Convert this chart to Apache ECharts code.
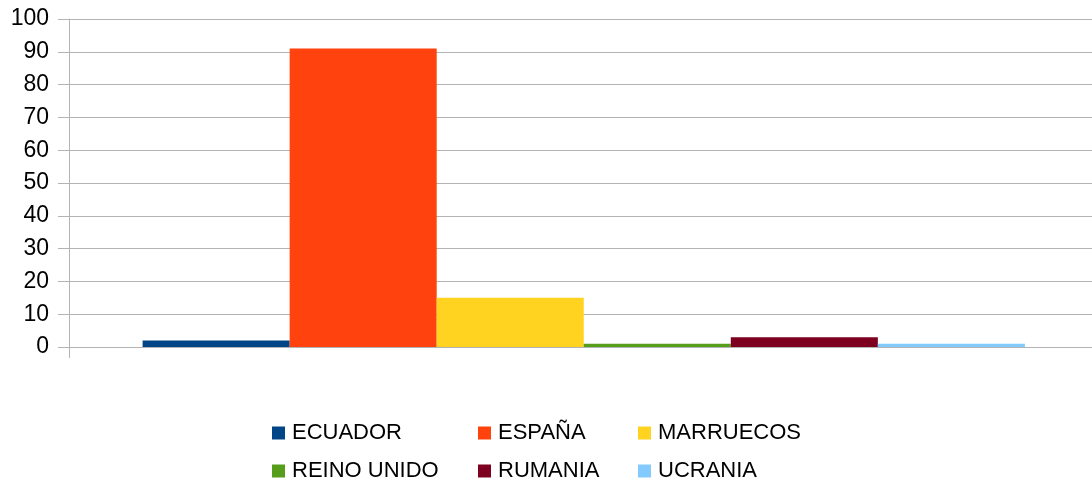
<!DOCTYPE html>
<html>
<head>
<meta charset="utf-8">
<script src="https://cdn.jsdelivr.net/npm/echarts@6/dist/echarts.min.js"></script>
<style>
    html, body { margin: 0; padding: 0; background: #fff; }
    #chart { width: 1092px; height: 484px; }
</style>
</head>
<body>
<div id="chart"></div>
<script>
const countries = ['ECUADOR', 'ESPAÑA', 'MARRUECOS', 'REINO UNIDO', 'RUMANIA', 'UCRANIA'];
const values = [2, 91, 15, 1, 3, 1];
const colors = ['#004586', '#ff420e', '#ffd320', '#579d1c', '#7e0021', '#83caff'];
const categories = [''];

// legend is laid out in three columns like the original
const legendColumns = [
    { left: 272, names: ['ECUADOR', 'REINO UNIDO'] },
    { left: 478, names: ['ESPAÑA', 'RUMANIA'] },
    { left: 638, names: ['MARRUECOS', 'UCRANIA'] },
];

const chart = echarts.init(document.getElementById('chart'), null, { renderer: 'canvas' });

const legendTextStyle = {
    color: '#000',
    fontFamily: 'Liberation Sans',
    fontSize: 22,
    padding: [0, 0, 0, 2],
};

chart.setOption({
    animation: false,
    color: colors,
    grid: {
        left: 69,
        right: -6.5,
        top: 19,
        bottom: 137,
        outerBoundsMode: 'none',
        containLabel: false,
    },
    legend: legendColumns.map((column) => ({
        orient: 'vertical',
        left: column.left,
        top: 422,
        itemWidth: 13,
        itemHeight: 13,
        itemGap: 16,
        icon: 'rect',
        padding: 0,
        textStyle: legendTextStyle,
        data: column.names,
    })),
    xAxis: {
        type: 'category',
        data: categories,
        axisLine: { lineStyle: { color: '#b3b3b3', width: 1 } },
        axisTick: { show: true, length: 11, lineStyle: { color: '#b3b3b3' } },
        axisLabel: { show: false },
    },
    yAxis: {
        type: 'value',
        min: 0,
        max: 100,
        interval: 10,
        axisLine: { show: true, lineStyle: { color: '#b3b3b3', width: 1 } },
        axisTick: { show: true, inside: false, length: 11, lineStyle: { color: '#b3b3b3', width: 1 } },
        axisLabel: {
            color: '#000',
            fontFamily: 'Liberation Sans',
            fontSize: 23,
            margin: 20,
        },
        splitLine: { lineStyle: { color: '#b3b3b3', width: 1 } },
    },
    series: countries.map((name, index) => ({
        name,
        type: 'bar',
        data: [values[index]],
        barGap: '0%',
        barCategoryGap: '14.3%',
        itemStyle: { color: colors[index] },
    })),
});
</script>
</body>
</html>
